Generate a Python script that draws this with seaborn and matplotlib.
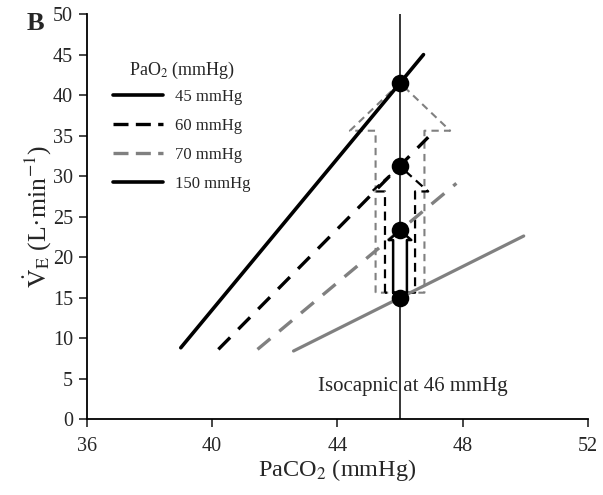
import numpy as np
import pandas as pd
import matplotlib
matplotlib.use("Agg")
import matplotlib.pyplot as plt
import seaborn as sns
from matplotlib.lines import Line2D

# ---- data ----
series_labels = ["45 mmHg", "60 mmHg", "70 mmHg", "150 mmHg"]
x_start = [39.0, 40.2, 41.45, 42.6]
x_end = [46.75, 46.9, 47.8, 49.95]
y_start = [8.8, 8.6, 8.6, 8.4]
y_end = [45.0, 34.8, 29.1, 22.6]
iso_x = 46.0
dot_y = [41.5, 31.2, 23.3, 15.0]
x_ticks = [36, 40, 44, 48, 52]
y_ticks = list(range(0, 51, 5))

# arrow specs: base, head base, tip, half shaft width, half head width
arrow_base = [15.6, 15.6, 15.6]
arrow_headbase = [35.6, 28.1, 22.1]
arrow_tip = [41.5, 31.2, 23.3]
arrow_shaft = [0.78, 0.48, 0.22]
arrow_head = [1.6, 0.9, 0.36]

sns.set_theme(style="ticks")
plt.rcParams["font.family"] = ["Liberation Serif", "DejaVu Serif"]
plt.rcParams["mathtext.fontset"] = "stix"

fig = plt.figure(figsize=(6.03, 4.95), dpi=100)
ax = fig.add_axes([0.144, 0.1535, 0.831, 0.818])

colors = ["black", "black", "#808080", "#808080"]
styles = ["-", (0, (5, 3.5)), (0, (5, 3.5)), "-"]
widths = [2.6, 2.4, 2.4, 2.3]

for i, lab in enumerate(series_labels):
    df = pd.DataFrame({"x": [x_start[i], x_end[i]], "y": [y_start[i], y_end[i]]})
    sns.lineplot(data=df, x="x", y="y", ax=ax, color=colors[i],
                 linestyle=styles[i], linewidth=widths[i], zorder=3,
                 estimator=None, sort=False)

# vertical isocapnic line
ax.plot([iso_x, iso_x], [0, 50], color="black", lw=1.1, zorder=2)

# arrows
a_colors = ["#808080", "black", "black"]
a_styles = [(0, (3.5, 2.5)), (0, (4, 2.5)), "-"]
a_widths = [1.5, 1.6, 1.8]
for j in range(3):
    s, h = arrow_shaft[j], arrow_head[j]
    xs = [iso_x - s, iso_x - s, iso_x - h, iso_x, iso_x + h, iso_x + s, iso_x + s, iso_x - s]
    ys = [arrow_base[j], arrow_headbase[j], arrow_headbase[j], arrow_tip[j],
          arrow_headbase[j], arrow_headbase[j], arrow_base[j], arrow_base[j]]
    if j == 2:
        ax.fill(xs, ys, color="white", zorder=4)
    ax.plot(xs, ys, color=a_colors[j], linestyle=a_styles[j], lw=a_widths[j],
            zorder=2 if j < 2 else 4)

# dots
sns.scatterplot(x=[iso_x] * len(dot_y), y=dot_y, ax=ax, color="black", s=160,
                zorder=6, edgecolor="black", linewidth=0)

ax.text(46.4, 4.0, "Isocapnic at 46 mmHg", ha="center", va="center", fontsize=15, zorder=5)

ax.set_xlim(36, 52)
ax.set_ylim(0, 50)
ax.set_xticks(x_ticks)
ax.set_yticks(y_ticks)
ax.tick_params(labelsize=14.5, width=1.2, length=6, direction="out")
ax.tick_params(axis="x", pad=7)
ax.tick_params(axis="y", pad=4)
ax.set_xlabel("PaCO$_2$ (mmHg)", fontsize=17.5, labelpad=1)
ax.set_ylabel(r"$\dot{\mathrm{V}}_{\mathrm{E}}$ (L·min$^{-1}$)", fontsize=18.5, labelpad=0)
for sp in ["top", "right"]:
    ax.spines[sp].set_visible(False)
for sp in ["left", "bottom"]:
    ax.spines[sp].set_linewidth(1.3)
    ax.spines[sp].set_color("black")

handles = [
    Line2D([], [], color="black", lw=2.6, linestyle="-"),
    Line2D([], [], color="black", lw=2.4, linestyle=(0, (4.5, 2.2))),
    Line2D([], [], color="#808080", lw=2.4, linestyle=(0, (4.5, 2.2))),
    Line2D([], [], color="black", lw=2.6, linestyle="-"),
]
leg = ax.legend(handles, series_labels, title="PaO$_2$ (mmHg)", frameon=False,
                loc="upper left", bbox_to_anchor=(0.023, 0.925), fontsize=12,
                title_fontsize=13, handlelength=3.0, labelspacing=0.78, handletextpad=0.7)
leg._legend_box.sep = 6

fig.text(0.058, 0.953, "B", fontsize=19, fontweight="bold", ha="center", va="center")

fig.savefig("out.png", dpi=100)
